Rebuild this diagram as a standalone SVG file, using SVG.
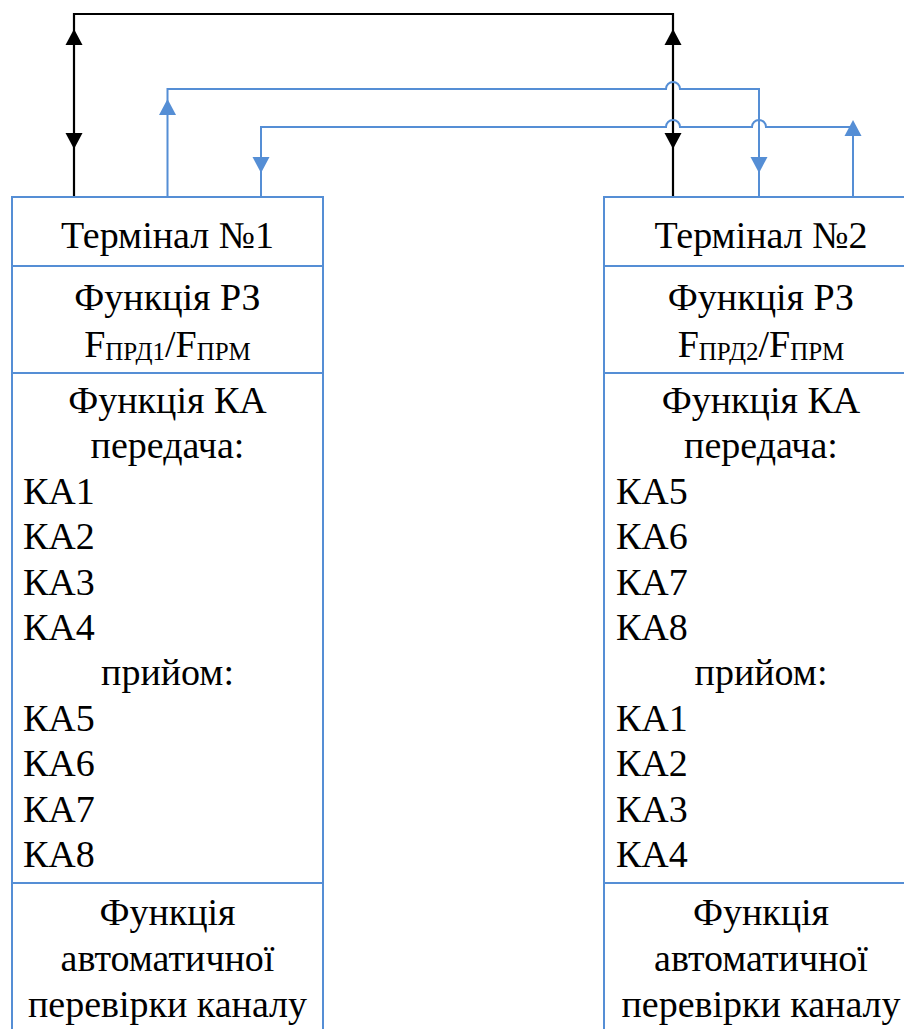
<svg xmlns="http://www.w3.org/2000/svg" width="904" height="1029" viewBox="0 0 904 1029">
<style>
.box{fill:#fff;stroke:#558ED5;stroke-width:2}
.div{stroke:#558ED5;stroke-width:2}
text{font-family:'Liberation Serif','DejaVu Serif',serif;font-size:38px;fill:#000}
.c{text-anchor:middle}
.blk{fill:none;stroke:#000;stroke-width:2.2}
.blu{fill:none;stroke:#558ED5;stroke-width:2}
.ab{fill:#000}
.au{fill:#558ED5}
</style>
<defs>
<path id="up" d="M0,0 L-8.5,16 L8.5,16 Z"/>
<path id="dn" d="M0,0 L-8.5,-16 L8.5,-16 Z"/>
</defs>
<g id="connectors">
<path class="blk" d="M74,197 V14 H673 V197"/>
<use href="#up" x="74" y="29" class="ab"/>
<use href="#dn" x="74" y="149" class="ab"/>
<use href="#up" x="673" y="29" class="ab"/>
<use href="#dn" x="673" y="149" class="ab"/>
<path class="blu" d="M167.5,197 V89 H666 A7,7 0 0 1 680,89 H759 V197"/>
<use href="#up" x="167.5" y="99" class="au"/>
<use href="#dn" x="759" y="173" class="au"/>
<path class="blu" d="M261,197 V127 H666 A7,7 0 0 1 680,127 H752 A7,7 0 0 1 766,127 H853 V197"/>
<use href="#dn" x="261" y="173" class="au"/>
<use href="#up" x="853" y="120" class="au"/>
</g>
<g id="terminal1" font-family="Liberation Serif, DejaVu Serif, serif">
<rect class="box" x="12" y="197" width="311" height="840"/>
<line class="div" x1="12" y1="266" x2="323" y2="266"/>
<line class="div" x1="12" y1="373" x2="323" y2="373"/>
<line class="div" x1="12" y1="883" x2="323" y2="883"/>
<text class="c" x="167.5" y="248">Термінал №1</text>
<text class="c" x="167.5" y="310">Функція РЗ</text>
<text class="c" x="167.5" y="357">F<tspan font-size="25" dy="3">ПРД1</tspan><tspan dy="-3">/F</tspan><tspan font-size="25" dy="3">ПРМ</tspan></text>
<text class="c" x="167.5" y="413">Функція КА</text>
<text class="c" x="167.5" y="458.4">передача:</text>
<text x="23" y="503.8">КА1</text>
<text x="23" y="549.2">КА2</text>
<text x="23" y="594.6">КА3</text>
<text x="23" y="640">КА4</text>
<text class="c" x="167.5" y="685.4">прийом:</text>
<text x="23" y="730.8">КА5</text>
<text x="23" y="776.2">КА6</text>
<text x="23" y="821.6">КА7</text>
<text x="23" y="867">КА8</text>
<text class="c" x="167.5" y="925">Функція</text>
<text class="c" x="167.5" y="971">автоматичної</text>
<text class="c" x="167.5" y="1017">перевірки каналу</text>
</g>
<g id="terminal2">
<rect class="box" x="604" y="197" width="314" height="840"/>
<line class="div" x1="604" y1="266" x2="918" y2="266"/>
<line class="div" x1="604" y1="373" x2="918" y2="373"/>
<line class="div" x1="604" y1="883" x2="918" y2="883"/>
<text class="c" x="761" y="248">Термінал №2</text>
<text class="c" x="761" y="310">Функція РЗ</text>
<text class="c" x="761" y="357">F<tspan font-size="25" dy="3">ПРД2</tspan><tspan dy="-3">/F</tspan><tspan font-size="25" dy="3">ПРМ</tspan></text>
<text class="c" x="761" y="413">Функція КА</text>
<text class="c" x="761" y="458.4">передача:</text>
<text x="616" y="503.8">КА5</text>
<text x="616" y="549.2">КА6</text>
<text x="616" y="594.6">КА7</text>
<text x="616" y="640">КА8</text>
<text class="c" x="761" y="685.4">прийом:</text>
<text x="616" y="730.8">КА1</text>
<text x="616" y="776.2">КА2</text>
<text x="616" y="821.6">КА3</text>
<text x="616" y="867">КА4</text>
<text class="c" x="761" y="925">Функція</text>
<text class="c" x="761" y="971">автоматичної</text>
<text class="c" x="761" y="1017">перевірки каналу</text>
</g>
</svg>
